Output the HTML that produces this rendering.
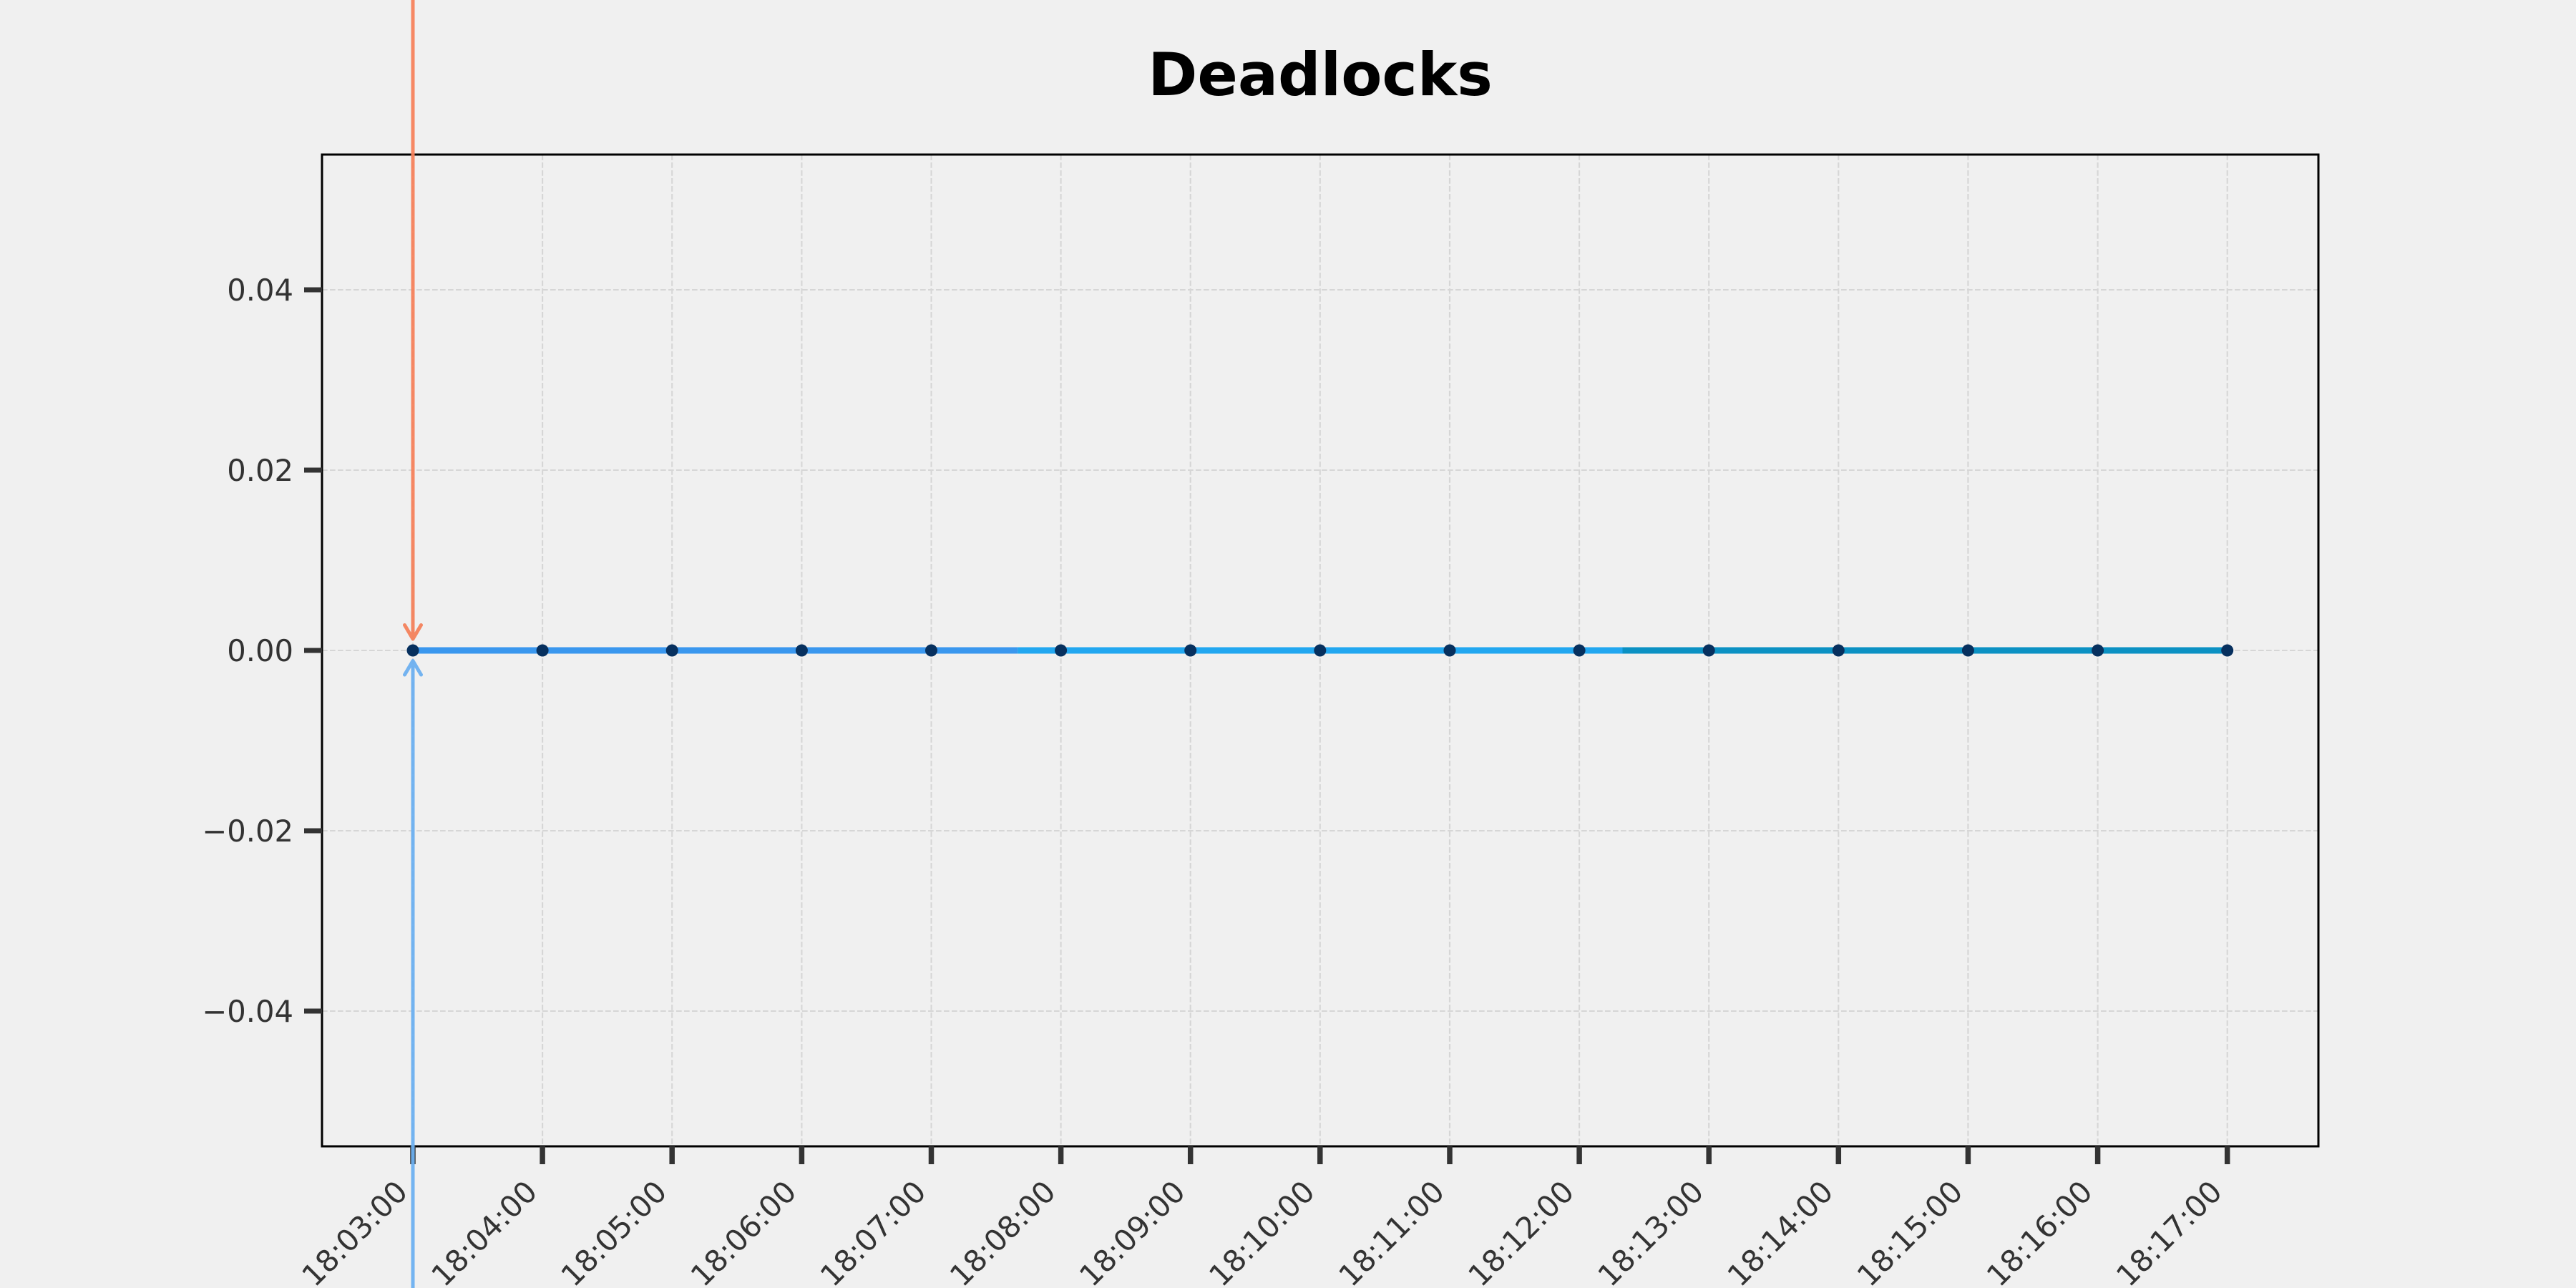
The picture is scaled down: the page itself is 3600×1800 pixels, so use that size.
<!DOCTYPE html>
<html>
<head>
<meta charset="utf-8">
<style>
  html, body { margin: 0; padding: 0; background: #f0f0f0; }
  svg { display: block; }
  text { font-family: "DejaVu Sans", "Liberation Sans", sans-serif; }
</style>
</head>
<body>
<svg width="3600" height="1800" viewBox="0 0 3600 1800" xmlns="http://www.w3.org/2000/svg">
  <rect x="0" y="0" width="3600" height="1800" fill="#f0f0f0"/>

  <!-- Title -->
  <text x="1845" y="133" font-size="83.3" font-weight="bold" text-anchor="middle" fill="#000">Deadlocks</text>

  <!-- Grid lines -->
  <g stroke="#d6d6d6" stroke-width="2.1" stroke-dasharray="7.7 3.3" fill="none">
    <line x1="450" y1="405" x2="3240" y2="405"/>
    <line x1="450" y1="657" x2="3240" y2="657"/>
    <line x1="450" y1="909" x2="3240" y2="909"/>
    <line x1="450" y1="1161" x2="3240" y2="1161"/>
    <line x1="450" y1="1413" x2="3240" y2="1413"/>
    <line x1="577" y1="216" x2="577" y2="1602"/>
    <line x1="758.1" y1="216" x2="758.1" y2="1602"/>
    <line x1="939.2" y1="216" x2="939.2" y2="1602"/>
    <line x1="1120.4" y1="216" x2="1120.4" y2="1602"/>
    <line x1="1301.5" y1="216" x2="1301.5" y2="1602"/>
    <line x1="1482.6" y1="216" x2="1482.6" y2="1602"/>
    <line x1="1663.7" y1="216" x2="1663.7" y2="1602"/>
    <line x1="1844.8" y1="216" x2="1844.8" y2="1602"/>
    <line x1="2026" y1="216" x2="2026" y2="1602"/>
    <line x1="2207.1" y1="216" x2="2207.1" y2="1602"/>
    <line x1="2388.2" y1="216" x2="2388.2" y2="1602"/>
    <line x1="2569.3" y1="216" x2="2569.3" y2="1602"/>
    <line x1="2750.4" y1="216" x2="2750.4" y2="1602"/>
    <line x1="2931.6" y1="216" x2="2931.6" y2="1602"/>
    <line x1="3112.7" y1="216" x2="3112.7" y2="1602"/>
  </g>

  <!-- Data line segments -->
  <g stroke-width="9" fill="none">
    <line x1="577" y1="909" x2="1422.2" y2="909" stroke="#3a97ee"/>
    <line x1="1422.2" y1="909" x2="2267.5" y2="909" stroke="#22a7f0"/>
    <line x1="2267.5" y1="909" x2="3112.7" y2="909" stroke="#0b91c3"/>
  </g>

  <!-- Markers -->
  <g fill="#07305e">
    <circle cx="577" cy="909" r="8.5"/>
    <circle cx="758.1" cy="909" r="8.5"/>
    <circle cx="939.2" cy="909" r="8.5"/>
    <circle cx="1120.4" cy="909" r="8.5"/>
    <circle cx="1301.5" cy="909" r="8.5"/>
    <circle cx="1482.6" cy="909" r="8.5"/>
    <circle cx="1663.7" cy="909" r="8.5"/>
    <circle cx="1844.8" cy="909" r="8.5"/>
    <circle cx="2026" cy="909" r="8.5"/>
    <circle cx="2207.1" cy="909" r="8.5"/>
    <circle cx="2388.2" cy="909" r="8.5"/>
    <circle cx="2569.3" cy="909" r="8.5"/>
    <circle cx="2750.4" cy="909" r="8.5"/>
    <circle cx="2931.6" cy="909" r="8.5"/>
    <circle cx="3112.7" cy="909" r="8.5"/>
  </g>

  <!-- Spines -->
  <rect x="450" y="216" width="2790" height="1386" fill="none" stroke="#000" stroke-width="3"/>

  <!-- Y ticks -->
  <g stroke="#333" stroke-width="7">
    <line x1="425" y1="405" x2="450" y2="405"/>
    <line x1="425" y1="657" x2="450" y2="657"/>
    <line x1="425" y1="909" x2="450" y2="909"/>
    <line x1="425" y1="1161" x2="450" y2="1161"/>
    <line x1="425" y1="1413" x2="450" y2="1413"/>
  </g>
  <g font-size="41.67" fill="#333" text-anchor="end">
    <text x="410" y="420">0.04</text>
    <text x="410" y="672">0.02</text>
    <text x="410" y="924">0.00</text>
    <text x="410" y="1176">−0.02</text>
    <text x="410" y="1428">−0.04</text>
  </g>

  <!-- X ticks -->
  <g stroke="#333" stroke-width="7.5">
    <line x1="577" y1="1602" x2="577" y2="1627"/>
    <line x1="758.1" y1="1602" x2="758.1" y2="1627"/>
    <line x1="939.2" y1="1602" x2="939.2" y2="1627"/>
    <line x1="1120.4" y1="1602" x2="1120.4" y2="1627"/>
    <line x1="1301.5" y1="1602" x2="1301.5" y2="1627"/>
    <line x1="1482.6" y1="1602" x2="1482.6" y2="1627"/>
    <line x1="1663.7" y1="1602" x2="1663.7" y2="1627"/>
    <line x1="1844.8" y1="1602" x2="1844.8" y2="1627"/>
    <line x1="2026" y1="1602" x2="2026" y2="1627"/>
    <line x1="2207.1" y1="1602" x2="2207.1" y2="1627"/>
    <line x1="2388.2" y1="1602" x2="2388.2" y2="1627"/>
    <line x1="2569.3" y1="1602" x2="2569.3" y2="1627"/>
    <line x1="2750.4" y1="1602" x2="2750.4" y2="1627"/>
    <line x1="2931.6" y1="1602" x2="2931.6" y2="1627"/>
    <line x1="3112.7" y1="1602" x2="3112.7" y2="1627"/>
  </g>
  <g font-size="41.67" fill="#333" text-anchor="end">
    <text transform="translate(572,1668) rotate(-45)">18:03:00</text>
    <text transform="translate(753.1,1668) rotate(-45)">18:04:00</text>
    <text transform="translate(934.2,1668) rotate(-45)">18:05:00</text>
    <text transform="translate(1115.4,1668) rotate(-45)">18:06:00</text>
    <text transform="translate(1296.5,1668) rotate(-45)">18:07:00</text>
    <text transform="translate(1477.6,1668) rotate(-45)">18:08:00</text>
    <text transform="translate(1658.7,1668) rotate(-45)">18:09:00</text>
    <text transform="translate(1839.8,1668) rotate(-45)">18:10:00</text>
    <text transform="translate(2021,1668) rotate(-45)">18:11:00</text>
    <text transform="translate(2202.1,1668) rotate(-45)">18:12:00</text>
    <text transform="translate(2383.2,1668) rotate(-45)">18:13:00</text>
    <text transform="translate(2564.3,1668) rotate(-45)">18:14:00</text>
    <text transform="translate(2745.4,1668) rotate(-45)">18:15:00</text>
    <text transform="translate(2926.6,1668) rotate(-45)">18:16:00</text>
    <text transform="translate(3107.7,1668) rotate(-45)">18:17:00</text>
  </g>

  <!-- Annotation arrows -->
  <g fill="none" stroke-width="5" stroke-linecap="round" stroke-linejoin="round">
    <g stroke="#f5825c" opacity="0.95">
      <line x1="577" y1="0" x2="577" y2="891"/>
      <polyline points="565.5,873.5 577,893 588.5,873.5"/>
    </g>
    <g stroke="#6db0f0" opacity="0.95">
      <line x1="577" y1="1800" x2="577" y2="925"/>
      <polyline points="565.5,943 577,923.5 588.5,943"/>
    </g>
  </g>
</svg>
</body>
</html>
